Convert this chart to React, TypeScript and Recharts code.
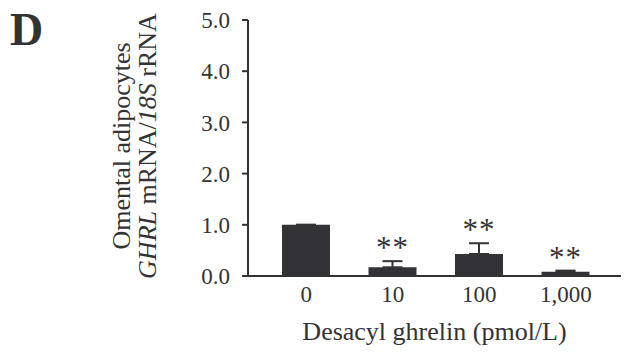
import React from "react";
import { BarChart, Bar, XAxis, YAxis, ErrorBar, LabelList, Label } from "recharts";

const categories = ["0", "10", "100", "1,000"];
const means = [1.0, 0.17, 0.43, 0.085];
const errUpper = [0, 0.12, 0.21, 0.02];
const significance = ["", "**", "**", "**"];
const yTicks = [0, 1, 2, 3, 4, 5];

const data = categories.map((c, i) => ({
  dose: c,
  mean: means[i],
  err: [0, errUpper[i]],
  sig: significance[i],
}));

const INK = "#333333";
const FONT = "'Liberation Serif', 'Times New Roman', serif";

const SigLabel = (props: any) => {
  const { x, y, width, height, index } = props;
  const i = typeof index === "number" ? index : 0;
  const s = significance[i];
  if (!s) return null;
  const pxPerUnit = means[i] > 0 ? height / means[i] : 0;
  const top = y - errUpper[i] * pxPerUnit;
  return (
    <text
      x={x + width / 2}
      y={top - 3}
      textAnchor="middle"
      fontFamily={FONT}
      fontSize={31}
      letterSpacing={1}
      fill={INK}
    >
      {s}
    </text>
  );
};

const YTitle = () => (
  <g fontFamily={FONT} fill={INK}>
    <text x={10} y={45} fontSize={46} fontWeight="bold">
      D
    </text>
    <text
      transform="translate(130,146) rotate(-90)"
      textAnchor="middle"
      fontSize={26}
    >
      Omental adipocytes
    </text>
    <text
      transform="translate(156,146) rotate(-90)"
      textAnchor="middle"
      fontSize={26}
    >
      <tspan fontStyle="italic">GHRL</tspan>
      <tspan> mRNA/</tspan>
      <tspan fontStyle="italic">18S</tspan>
      <tspan> rRNA</tspan>
    </text>
  </g>
);

export default function App() {
  return (
    <div style={{ position: "absolute", left: 0, top: 0, background: "#fff" }}>
      <BarChart
        width={626}
        height={352}
        data={data}
        margin={{ top: 20, right: 5, bottom: 0, left: 0 }}
      >
        <XAxis
          dataKey="dose"
          height={76}
          axisLine={{ stroke: INK, strokeWidth: 2 }}
          tickLine={false}
          tickSize={0}
          tickMargin={10}
          padding={{ left: 15, right: 12 }}
          tick={{ fontFamily: FONT, fontSize: 23, fill: INK }}
          interval={0}
        >
          <Label
            value="Desacyl ghrelin (pmol/L)"
            position="insideBottom"
            offset={12}
            style={{ fontFamily: FONT, fontSize: 26, fill: INK }}
          />
        </XAxis>
        <YAxis
          width={248}
          domain={[0, 5]}
          ticks={yTicks}
          tickFormatter={(v: number) => v.toFixed(1)}
          axisLine={{ stroke: INK, strokeWidth: 2 }}
          tickLine={{ stroke: INK, strokeWidth: 2 }}
          tickSize={6}
          tickMargin={12}
          tick={{ fontFamily: FONT, fontSize: 23, fill: INK }}
          interval={0}
        >
          <Label content={<YTitle />} />
        </YAxis>
        <Bar dataKey="mean" fill="#333337" barSize={48} isAnimationActive={false}>
          <ErrorBar
            dataKey="err"
            direction="y"
            width={10}
            strokeWidth={2}
            stroke={INK}
            isAnimationActive={false}
          />
          <LabelList dataKey="sig" content={<SigLabel />} />
        </Bar>
      </BarChart>
    </div>
  );
}
